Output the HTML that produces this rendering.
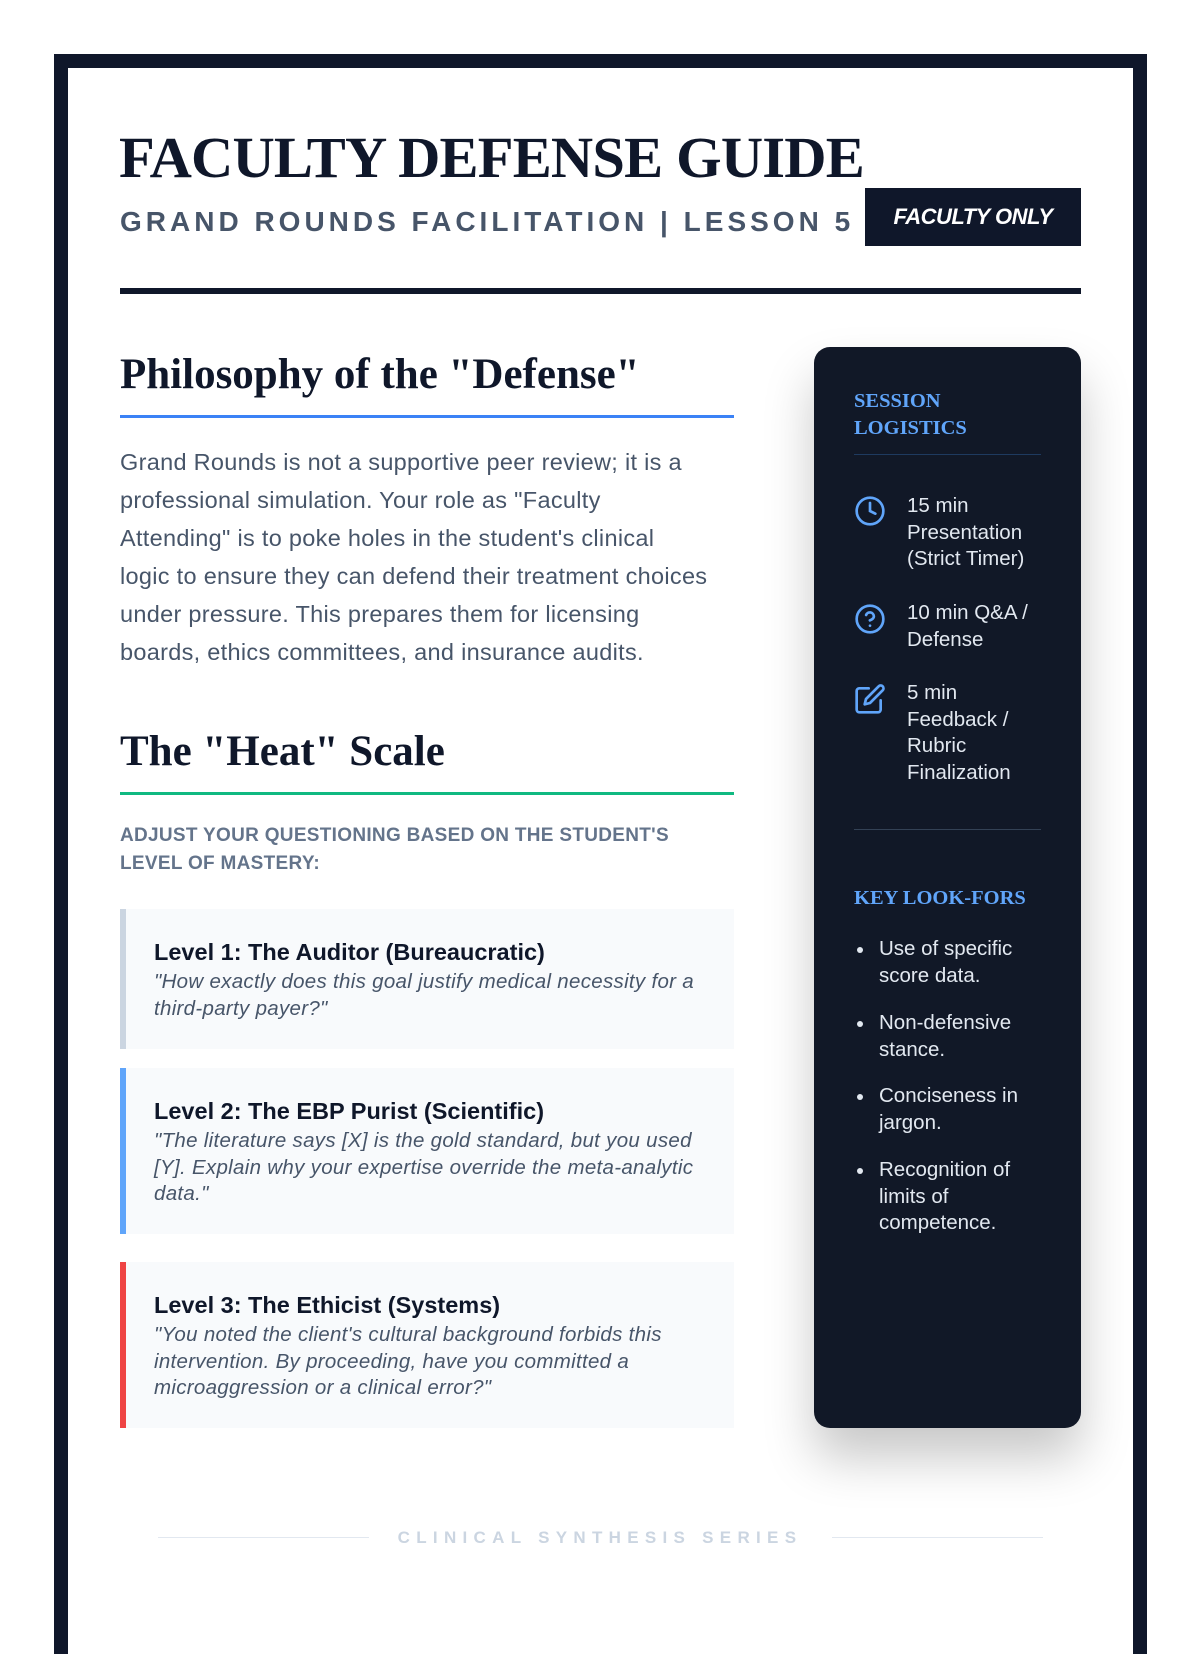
<!DOCTYPE html>
<html><head><meta charset="utf-8"><style>
*{margin:0;padding:0;box-sizing:border-box}
body{width:1200px;height:1600px;background:#fff;position:relative;overflow:hidden;font-family:"Liberation Sans",sans-serif}
.a{position:absolute}
.frame{left:54px;top:54px;width:1093px;height:1600px;border:14px solid #0f172a;border-bottom:none}
.title{left:119px;top:124px;font-family:"Liberation Serif",serif;font-weight:bold;font-size:58.5px;color:#0f172a;letter-spacing:-0.8px;white-space:nowrap}
.sub{left:120px;top:206px;font-size:28px;font-weight:bold;color:#475569;letter-spacing:4px;white-space:nowrap}
.badge{left:865px;top:188px;width:216px;height:58px;background:#0f172a;color:#fff;font-style:italic;font-weight:bold;font-size:22px;display:flex;align-items:center;justify-content:center;letter-spacing:-0.5px}
.rule{left:120px;top:288px;width:961px;height:6px;background:#0f172a}
h2{position:absolute;font-family:"Liberation Serif",serif;font-weight:bold;font-size:43px;color:#0f172a;white-space:nowrap}
.p{left:120px;top:443px;font-size:23.5px;letter-spacing:0.3px;line-height:38px;color:#475569;white-space:nowrap}
.sh{left:120px;top:822px;font-size:19px;letter-spacing:0.3px;line-height:28px;font-weight:bold;color:#64748b;white-space:nowrap}
.card{left:120px;width:614px;background:#f8fafc;border-left:6px solid;padding-left:28px}
.card b{position:absolute;left:28px;font-size:23.5px;color:#0f172a;white-space:nowrap}
.card i{position:absolute;left:28px;font-size:20.5px;letter-spacing:0.3px;line-height:26.7px;color:#475569;white-space:nowrap}
.side{left:814px;top:347px;width:267px;height:1081px;background:#111827;border-radius:16px;box-shadow:0 30px 50px rgba(0,0,0,0.22)}
.sl{font-family:"Liberation Serif",serif;font-weight:bold;font-size:20.5px;color:#60a5fa;line-height:27px}
.it{left:907px;font-size:20.5px;line-height:26.7px;color:#e2e8f0;white-space:nowrap}
.bl{left:879px;font-size:20.5px;line-height:26.7px;color:#e2e8f0;white-space:nowrap}
.dot{left:857px;width:6px;height:6px;border-radius:3px;background:#e2e8f0}
.ft{left:0;width:1200px;top:1528px;text-align:center;font-size:17px;font-weight:bold;color:#cbd5e1;letter-spacing:6.3px}
</style></head><body>
<div class="a frame"></div>
<div class="a title">FACULTY DEFENSE GUIDE</div>
<div class="a sub">GRAND ROUNDS FACILITATION | LESSON 5</div>
<div class="a badge">FACULTY ONLY</div>
<div class="a rule"></div>

<h2 style="left:120px;top:350px">Philosophy of the "Defense"</h2>
<div class="a" style="left:120px;top:415px;width:614px;height:3px;background:#3b82f6"></div>
<div class="a p">Grand Rounds is not a supportive peer review; it is a<br>professional simulation. Your role as "Faculty<br>Attending" is to poke holes in the student's clinical<br>logic to ensure they can defend their treatment choices<br>under pressure. This prepares them for licensing<br>boards, ethics committees, and insurance audits.</div>

<h2 style="left:120px;top:727px">The "Heat" Scale</h2>
<div class="a" style="left:120px;top:792px;width:614px;height:3px;background:#10b981"></div>
<div class="a sh">ADJUST YOUR QUESTIONING BASED ON THE STUDENT'S<br>LEVEL OF MASTERY:</div>

<div class="a card" style="top:909px;height:140px;border-color:#cbd5e1">
<b style="top:30px">Level 1: The Auditor (Bureaucratic)</b>
<i style="top:60px">"How exactly does this goal justify medical necessity for a<br>third-party payer?"</i></div>
<div class="a card" style="top:1068px;height:166px;border-color:#60a5fa">
<b style="top:30px">Level 2: The EBP Purist (Scientific)</b>
<i style="top:60px">"The literature says [X] is the gold standard, but you used<br>[Y]. Explain why your expertise override the meta-analytic<br>data."</i></div>
<div class="a card" style="top:1262px;height:166px;border-color:#ef4444">
<b style="top:30px">Level 3: The Ethicist (Systems)</b>
<i style="top:60px">"You noted the client's cultural background forbids this<br>intervention. By proceeding, have you committed a<br>microaggression or a clinical error?"</i></div>

<div class="a side"></div>
<div class="a sl" style="left:854px;top:388px">SESSION<br>LOGISTICS</div>
<div class="a" style="left:854px;top:454px;width:187px;height:1px;background:#1e3a5f"></div>

<svg class="a" style="left:854px;top:495px" width="32" height="32" viewBox="0 0 24 24" fill="none" stroke="#60a5fa" stroke-width="2" stroke-linecap="round"><circle cx="12" cy="12" r="10"/><path d="M12 6v6l4 2"/></svg>
<div class="a it" style="top:493px">15 min<br>Presentation<br>(Strict Timer)</div>
<svg class="a" style="left:854px;top:603px" width="32" height="32" viewBox="0 0 24 24" fill="none" stroke="#60a5fa" stroke-width="2" stroke-linecap="round"><circle cx="12" cy="12" r="10"/><path d="M9.1 9a3 3 0 0 1 5.8 1c0 2-3 3-3 3"/><path d="M12 17h.01"/></svg>
<div class="a it" style="top:600px">10 min Q&amp;A /<br>Defense</div>
<svg class="a" style="left:854px;top:683px" width="32" height="32" viewBox="0 0 24 24" fill="none" stroke="#60a5fa" stroke-width="2" stroke-linecap="round" stroke-linejoin="round"><path d="M11 4H4a2 2 0 0 0-2 2v14a2 2 0 0 0 2 2h14a2 2 0 0 0 2-2v-7"/><path d="M18.5 2.5a2.1 2.1 0 0 1 3 3L12 15l-4 1 1-4z"/></svg>
<div class="a it" style="top:680px">5 min<br>Feedback /<br>Rubric<br>Finalization</div>

<div class="a" style="left:854px;top:829px;width:187px;height:1px;background:#334155"></div>
<div class="a sl" style="left:854px;top:885px">KEY LOOK-FORS</div>
<div class="a dot" style="top:947px"></div><div class="a bl" style="top:936px">Use of specific<br>score data.</div>
<div class="a dot" style="top:1021px"></div><div class="a bl" style="top:1010px">Non-defensive<br>stance.</div>
<div class="a dot" style="top:1094px"></div><div class="a bl" style="top:1083px">Conciseness in<br>jargon.</div>
<div class="a dot" style="top:1168px"></div><div class="a bl" style="top:1157px">Recognition of<br>limits of<br>competence.</div>

<div class="a" style="left:158px;top:1537px;width:211px;height:1px;background:#e2e8f0"></div>
<div class="a" style="left:832px;top:1537px;width:211px;height:1px;background:#e2e8f0"></div>
<div class="a ft">CLINICAL SYNTHESIS SERIES</div>
</body></html>
